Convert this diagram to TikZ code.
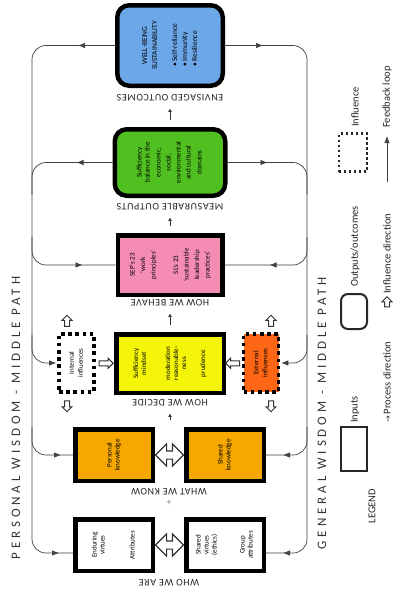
\documentclass[tikz,border=0pt]{standalone}
\usepackage{fontspec}
\usepackage{graphicx}
\setmainfont{Carlito}
\newfontfamily\lblfont[LetterSpace=6]{Carlito}
\newfontfamily\sidefont[LetterSpace=30]{Carlito}
\newfontfamily\dvs{DejaVu Sans}
\usetikzlibrary{shapes.arrows,arrows.meta,decorations.markings,calc}
\newcommand{\rottext}[1]{\rotatebox{90}{\begin{tabular}{@{}c@{}}#1\end{tabular}}}
\definecolor{bluec}{RGB}{108,168,232}
\definecolor{greenc}{RGB}{80,192,32}
\definecolor{pinkc}{RGB}{244,140,180}
\definecolor{yellowc}{RGB}{245,245,10}
\definecolor{orangec}{RGB}{246,168,0}
\definecolor{extc}{RGB}{252,102,20}
\begin{document}
\begin{tikzpicture}[x=1pt,y=-1pt,
  box/.style={draw=black, line width=4.5pt, inner sep=0pt, text=black, font=\fontsize{7}{8}\selectfont},
  outbox/.style={box, rounded corners=12pt},
  inflbox/.style={draw=black, line width=3.6pt, dash pattern=on 3.6pt off 3.6pt, inner sep=0pt, text=black, font=\fontsize{7}{9}\selectfont, minimum width=35pt, minimum height=58pt},
  lbl/.style={rotate=180, inner sep=1pt, font=\lblfont\fontsize{10}{10}\selectfont, text=black!85},
  side/.style={rotate=90, inner sep=1pt, font=\sidefont\fontsize{13}{13}\selectfont, text=black!80},
  lgtext/.style={rotate=90, inner sep=1pt, font=\fontsize{10.5}{10.5}\selectfont, text=black!85},
  fb/.style={draw=black!75, line width=0.7pt, rounded corners=14pt},
  fbmark/.style={postaction={decorate, decoration={markings, mark=at position #1 with {\arrow{Latex[length=7pt,width=5.5pt]}}}}},
  fbend/.style={-{Latex[length=7pt,width=5.5pt]}},
  proc/.style={draw=black!80, line width=0.8pt, -{Latex[length=3.5pt,width=4pt]}, shorten <=7pt, shorten >=6pt},
  hol/.style={single arrow, draw=black!80, line width=1pt, fill=white, minimum height=11pt, inner sep=2pt, single arrow head extend=2.5pt},
  dbl/.style={double arrow, draw=black!80, line width=1.1pt, fill=white, minimum height=28pt, inner sep=3.5pt, double arrow head extend=7pt}
]
\fill[white] (0,0) rectangle (418,595);
\useasboundingbox (0,0) rectangle (418,595);

% main boxes
\node[outbox, fill=bluec, minimum width=105.5pt, minimum height=80.5pt, font=\fontsize{7.5}{10}\selectfont] (outc) at (170,45.5)
  {\rottext{WELL-BEING\\SUSTAINABILITY\\[10pt]\begin{tabular}{@{}l@{}}• Self-reliance\\• Immunity\\• Resilience\end{tabular}}};
\node[outbox, fill=greenc, minimum width=110.5pt, minimum height=66.5pt, font=\fontsize{7}{8}\selectfont] (meas) at (170,162.5)
  {\rottext{Sufficiency\\balance in the\\[3pt]economic,\\[2pt]social,\\[2pt]environmental\\[2pt]and cultural\\[3pt]domains}};
\node[box, fill=pinkc, minimum width=104.5pt, minimum height=59.5pt, font=\fontsize{7}{10.5}\selectfont] (beh) at (170,265)
  {\rottext{SEP's 23\\‘work\\principles’\\[12pt]SL's 23\\‘sustainable\\leadership\\practices’}};
\node[box, fill=yellowc, minimum width=107.5pt, minimum height=58.5pt] (dec) at (170,363.5)
  {\rottext{Sufficiency\\mindset\\[16pt]moderation\\reasonable-\\ness\\[11pt]prudence}};
\node[box, fill=orangec, minimum width=77.5pt, minimum height=51.5pt] (pk) at (114,455) {\rottext{Personal\\knowledge}};
\node[box, fill=orangec, minimum width=77.5pt, minimum height=51.5pt] (sk) at (225,455) {\rottext{Shared\\knowledge}};
\node[box, fill=white, minimum width=77.5pt, minimum height=51.5pt] (ev) at (114,545) {\rottext{Enduring\\virtues\\[22pt]Attributes}};
\node[box, fill=white, minimum width=77.5pt, minimum height=51.5pt] (sv) at (225,545) {\rottext{Shared\\virtues\\(ethics)\\[20pt]Group\\attributes}};
\node[inflbox, fill=white] (inf) at (76.5,363) {\rottext{Internal\\influences}};
\node[inflbox, fill=extc] (exf) at (261,363) {\rottext{External\\influences}};

% stage labels
\node[lbl] (lenv) at (170,98) {ENVISAGED OUTCOMES};
\node[lbl] (lmeas) at (170,207) {MEASURABLE OUTPUTS};
\node[lbl] (lbeh) at (170,303) {HOW WE BEHAVE};
\node[lbl] (ldec) at (170,403) {HOW WE DECIDE};
\node[lbl] (lknow) at (169,492) {WHAT WE KNOW};
\node[lbl] (lare) at (169,583) {WHO WE ARE};
\node[text=black!50, font=\fontsize{10}{10}\selectfont, inner sep=0pt] (plus) at (169,503) {+};

% process arrows
\coordinate (kntop) at (170,427);
\draw[proc] (meas.north) -- (lenv);
\draw[proc] (beh.north) -- (lmeas);
\draw[proc] (dec.north) -- (lbeh);
\draw[proc] (kntop) -- (ldec);

% influence arrows
\node[dbl] (dk) at ($(pk.east)!0.5!(sk.west)$) {};
\node[dbl] (dv) at ($(ev.east)!0.5!(sv.west)$) {};
\node[hol, shape border rotate=90] (iu) at (67,322) {};
\node[hol, shape border rotate=270] (id) at (67,405) {};
\node[hol, shape border rotate=90] (eu) at (271,322) {};
\node[hol, shape border rotate=270] (ed) at (271,405) {};
\node[hol, shape border rotate=0, minimum height=14pt] (ir) at ($(inf.east)!0.5!(dec.west)$) {};
\node[hol, shape border rotate=180, minimum height=14pt] (el) at ($(dec.east)!0.5!(exf.west)$) {};

% feedback loops
\coordinate (railL) at (32,0);
\coordinate (railR) at (307,0);
\coordinate (evlow) at ([yshift=-8pt]ev.west);
\coordinate (svlow) at ([yshift=-8pt]sv.east);
\draw[fb, fbmark=37pt, fbmark=-14pt] (outc.west) -- (railL |- outc.west) -- (railL |- evlow) -- (evlow);
\draw[fb, fbmark=36pt] (meas.west) -- (railL |- meas.west) -- ($(railL |- meas.west)+(0,32)$);
\draw[fb, fbmark=-33pt] ($(railL |- beh.west)+(0,-28)$) -- (railL |- beh.west) -- (beh.west);
\draw[fb, fbend, shorten >=1pt] ($(railL |- inf.west)+(0,-28)$) -- (railL |- inf.west) -- (inf.west);
\draw[fb, fbmark=-12pt] ($(railL |- pk.west)+(0,-28)$) -- (railL |- pk.west) -- (pk.west);

\draw[fb, fbmark=38pt, fbmark=-17pt] (outc.east) -- (railR |- outc.east) -- (railR |- svlow) -- (svlow);
\draw[fb, fbmark=40pt] (meas.east) -- (railR |- meas.east) -- ($(railR |- meas.east)+(0,32)$);
\draw[fb, fbmark=-45pt] ($(railR |- beh.east)+(0,-28)$) -- (railR |- beh.east) -- (beh.east);
\draw[fb, fbend, shorten >=1pt] ($(railR |- exf.east)+(0,-28)$) -- (railR |- exf.east) -- (exf.east);
\draw[fb, fbmark=-17pt] ($(railR |- sk.east)+(0,-28)$) -- (railR |- sk.east) -- (sk.east);

% side texts
\node[side] (pws) at (16,418) {PERSONAL WISDOM - MIDDLE PATH};
\node[side] (gws) at (322,413) {GENERAL WISDOM - MIDDLE PATH};

% legend
\node[lgtext] (lgd) at (372,506) {LEGEND};
\node[draw=black!85, line width=2pt, minimum width=26pt, minimum height=44pt, inner sep=0pt] (lgin) at (354,449) {};
\node[lgtext, anchor=west] (lgint) at (355,424) {Inputs};
\node[draw=black!85, line width=2pt, rounded corners=7pt, minimum width=26pt, minimum height=35pt, inner sep=0pt] (lgout) at (354,311.5) {};
\node[lgtext, anchor=west] (lgoutt) at (355,288) {Outputs/outcomes};
\node[draw=black!85, line width=2.2pt, dash pattern=on 2.2pt off 2.8pt, minimum width=28pt, minimum height=38pt, inner sep=0pt] (lginf) at (353,152.5) {};
\node[lgtext, anchor=west] (lginft) at (355,128) {Influence};
\node[lgtext, anchor=west] (lgproc) at (387,424) {{\dvs\fontsize{8}{8}\selectfont →}\,Process direction};
\node[hol, shape border rotate=90, minimum height=10pt] (lgha) at (387,303) {};
\node[lgtext, anchor=west] (lghat) at (387,295) {Influence direction};
\coordinate (lgfa) at (387,182);
\coordinate (lgfb) at (387,136);
\draw[fb, fbend] (lgfa) -- (lgfb);
\node[lgtext, anchor=west] (lgfbt) at (387,129) {Feedback loop};
\end{tikzpicture}
\end{document}
